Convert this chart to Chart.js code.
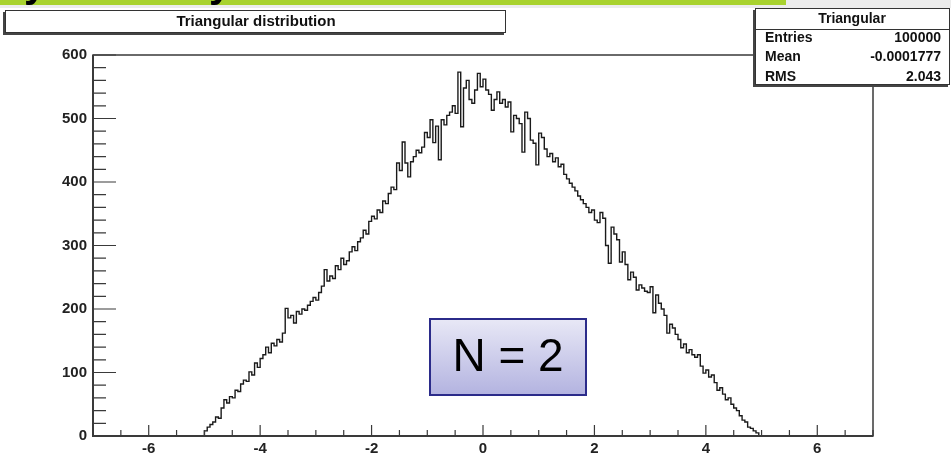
<!DOCTYPE html>
<html>
<head>
<meta charset="utf-8">
<script src="https://cdn.jsdelivr.net/npm/chart.js@4.4.1/dist/chart.umd.min.js"></script>
<style>
    html, body { margin: 0; padding: 0; background: #ffffff; }
    #wrap { width: 951px; height: 462px; position: relative; }
</style>
</head>
<body>
<div id="wrap"><canvas id="histCanvas" width="951" height="462"></canvas></div>
<script>
// histogram data (bins of 0.05 from -5 to 5)
var binStart = -5;
var binWidth = 0.05;
var counts = [
    4, 8, 14, 18, 22, 30, 28, 44, 57, 52,
    62, 60, 72, 70, 82, 88, 86, 101, 96, 115,
    108, 122, 128, 140, 131, 146, 142, 152, 148, 162,
    201, 186, 190, 178, 196, 192, 200, 198, 206, 212,
    218, 214, 226, 236, 262, 244, 252, 248, 268, 262,
    280, 270, 276, 290, 298, 292, 306, 312, 324, 318,
    338, 346, 342, 356, 352, 370, 366, 382, 392, 388,
    430, 418, 463, 430, 408, 432, 440, 450, 446, 455,
    478, 470, 498, 462, 488, 435, 498, 490, 505, 510,
    520, 508, 573, 487, 548, 560, 530, 524, 545, 571,
    550, 562, 545, 538, 513, 530, 542, 524, 530, 518,
    526, 479, 505, 500, 492, 447, 510, 500, 466, 461,
    427, 477, 470, 452, 440, 445, 432, 438, 424, 428,
    412, 405, 398, 392, 386, 378, 372, 366, 360, 352,
    356, 340, 336, 352, 343, 300, 272, 329, 318, 309,
    274, 290, 270, 246, 258, 250, 230, 238, 233, 228,
    226, 235, 194, 222, 209, 200, 190, 162, 176, 170,
    160, 152, 139, 145, 131, 136, 128, 124, 128, 110,
    99, 104, 93, 96, 84, 72, 76, 66, 57, 60,
    50, 44, 40, 32, 25, 22, 14, 12, 8, 5
];
var xRange = [-7, 7];
var yRange = [0, 600];
var xLabels = [-6, -4, -2, 0, 2, 4, 6];
var yLabels = [0, 100, 200, 300, 400, 500, 600];

var titleText = "Triangular distribution";
var statsName = "Triangular";
var statsRows = [
    ["Entries", "100000"],
    ["Mean", "-0.0001777"],
    ["RMS", "2.043"]
];
var noteText = "N = 2";

document.addEventListener("DOMContentLoaded", function () {
    var points = [{ x: binStart, y: 0 }];
    for (var i = 0; i < counts.length; i++) {
        points.push({ x: Math.round((binStart + i * binWidth) * 1000) / 1000, y: counts[i] });
    }
    points.push({ x: Math.round((binStart + counts.length * binWidth) * 1000) / 1000, y: 0 });

    var labelFont = { family: "'Liberation Sans', Arial, sans-serif", size: 15, weight: "bold" };

    var decorations = {
        id: "decorations",
        beforeDraw: function (chart) {
            var ctx = chart.ctx;
            ctx.save();
            ctx.fillStyle = "#ffffff";
            ctx.fillRect(0, 0, chart.width, chart.height);
            // slide header remains
            ctx.fillStyle = "#ececec";
            ctx.fillRect(0, 0, chart.width, 8);
            ctx.fillStyle = "#a8d22e";
            ctx.fillRect(0, 0, 786, 5);
            ctx.fillStyle = "#000000";
            ctx.font = "bold 40px 'Liberation Sans', Arial, sans-serif";
            ctx.textBaseline = "alphabetic";
            ctx.fillText("y", 24, -3);
            ctx.fillText("y", 209, -3);
            ctx.restore();
        },
        afterDraw: function (chart) {
            var ctx = chart.ctx;
            var area = chart.chartArea;
            var xs = chart.scales.x;
            var ys = chart.scales.y;
            ctx.save();

            // frame
            ctx.strokeStyle = "#3a3a3a";
            ctx.lineWidth = 1.5;
            ctx.strokeRect(area.left, area.top, area.right - area.left, area.bottom - area.top);

            // inward ticks
            ctx.lineWidth = 1.2;
            ctx.beginPath();
            xs.ticks.forEach(function (t) {
                var px = xs.getPixelForValue(t.value);
                var len = (Math.abs(t.value) % 2 === 0) ? 11 : 6;
                ctx.moveTo(px, area.bottom);
                ctx.lineTo(px, area.bottom - len);
            });
            ys.ticks.forEach(function (t) {
                var py = ys.getPixelForValue(t.value);
                var len = (t.value % 100 === 0) ? 23 : 13;
                ctx.moveTo(area.left, py);
                ctx.lineTo(area.left + len, py);
            });
            ctx.stroke();
            ctx.lineWidth = 2;
            ctx.beginPath();
            ctx.moveTo(area.left, area.top);
            ctx.lineTo(area.left, area.bottom);
            ctx.lineTo(area.right, area.bottom);
            ctx.stroke();

            // title box
            drawPave(ctx, 5, 10, 501, 23);
            ctx.fillStyle = "#111111";
            ctx.font = "bold 15px 'Liberation Sans', Arial, sans-serif";
            ctx.textAlign = "center";
            ctx.textBaseline = "middle";
            ctx.fillText(titleText, 256, 22);

            // stats box
            drawPave(ctx, 755, 8, 195, 77);
            ctx.strokeStyle = "#333333";
            ctx.lineWidth = 1;
            ctx.beginPath();
            ctx.moveTo(755, 29.5);
            ctx.lineTo(950, 29.5);
            ctx.stroke();
            ctx.fillStyle = "#111111";
            ctx.font = "bold 14px 'Liberation Sans', Arial, sans-serif";
            ctx.textAlign = "center";
            ctx.fillText(statsName, 852, 19);
            for (var r = 0; r < statsRows.length; r++) {
                var ty = 38 + r * 19.5;
                ctx.textAlign = "left";
                ctx.fillText(statsRows[r][0], 765, ty);
                ctx.textAlign = "right";
                ctx.fillText(statsRows[r][1], 941, ty);
            }

            // N = 2 label
            var g = ctx.createLinearGradient(0, 319, 0, 395);
            g.addColorStop(0, "#e8e8f6");
            g.addColorStop(1, "#b3b3e0");
            ctx.fillStyle = g;
            ctx.fillRect(430, 319, 156, 76);
            ctx.strokeStyle = "#2b2b8a";
            ctx.lineWidth = 2;
            ctx.strokeRect(430, 319, 156, 76);
            ctx.fillStyle = "#000000";
            ctx.font = "46px 'Liberation Sans', Arial, sans-serif";
            ctx.textAlign = "center";
            ctx.textBaseline = "middle";
            ctx.fillText(noteText, 508, 358);

            ctx.restore();
        }
    };

    function drawPave(ctx, x, y, w, h) {
        ctx.fillStyle = "#444444";
        ctx.fillRect(x - 2, y + 2, w, h);
        ctx.fillStyle = "#ffffff";
        ctx.fillRect(x, y, w, h);
        ctx.strokeStyle = "#333333";
        ctx.lineWidth = 1;
        ctx.strokeRect(x + 0.5, y + 0.5, w - 1, h - 1);
    }

    var canvas = document.getElementById("histCanvas");
    var ctx = canvas.getContext("2d");
    canvas.chart = new Chart(ctx, {
        type: "line",
        data: {
            datasets: [{
                data: points,
                stepped: "after",
                borderColor: "#1a1a1a",
                borderWidth: 1.4,
                pointRadius: 0,
                fill: false,
            }],
        },
        options: {
            responsive: false,
            animation: false,
            layout: { padding: { top: 55, right: 78, left: 0, bottom: 0 } },
            plugins: {
                legend: { display: false },
                tooltip: { enabled: false },
            },
            scales: {
                x: {
                    type: "linear",
                    min: xRange[0],
                    max: xRange[1],
                    grid: { display: false, drawTicks: false },
                    border: { display: false },
                    afterFit: function (s) { s.height = 26; },
                    ticks: {
                        stepSize: 0.5,
                        autoSkip: false,
                        maxRotation: 0,
                        minRotation: 0,
                        padding: 4,
                        color: "#222222",
                        font: labelFont,
                        callback: function (v) { return xLabels.indexOf(v) >= 0 ? String(v) : ""; },
                    },
                },
                y: {
                    min: yRange[0],
                    max: yRange[1],
                    grid: { display: false, drawTicks: false },
                    border: { display: false },
                    afterFit: function (s) { s.width = 93; },
                    ticks: {
                        stepSize: 20,
                        autoSkip: false,
                        padding: 6,
                        color: "#222222",
                        font: labelFont,
                        callback: function (v) { return yLabels.indexOf(v) >= 0 ? String(v) : ""; },
                    },
                },
            },
        },
        plugins: [decorations],
    });
});
</script>
</body>
</html>
